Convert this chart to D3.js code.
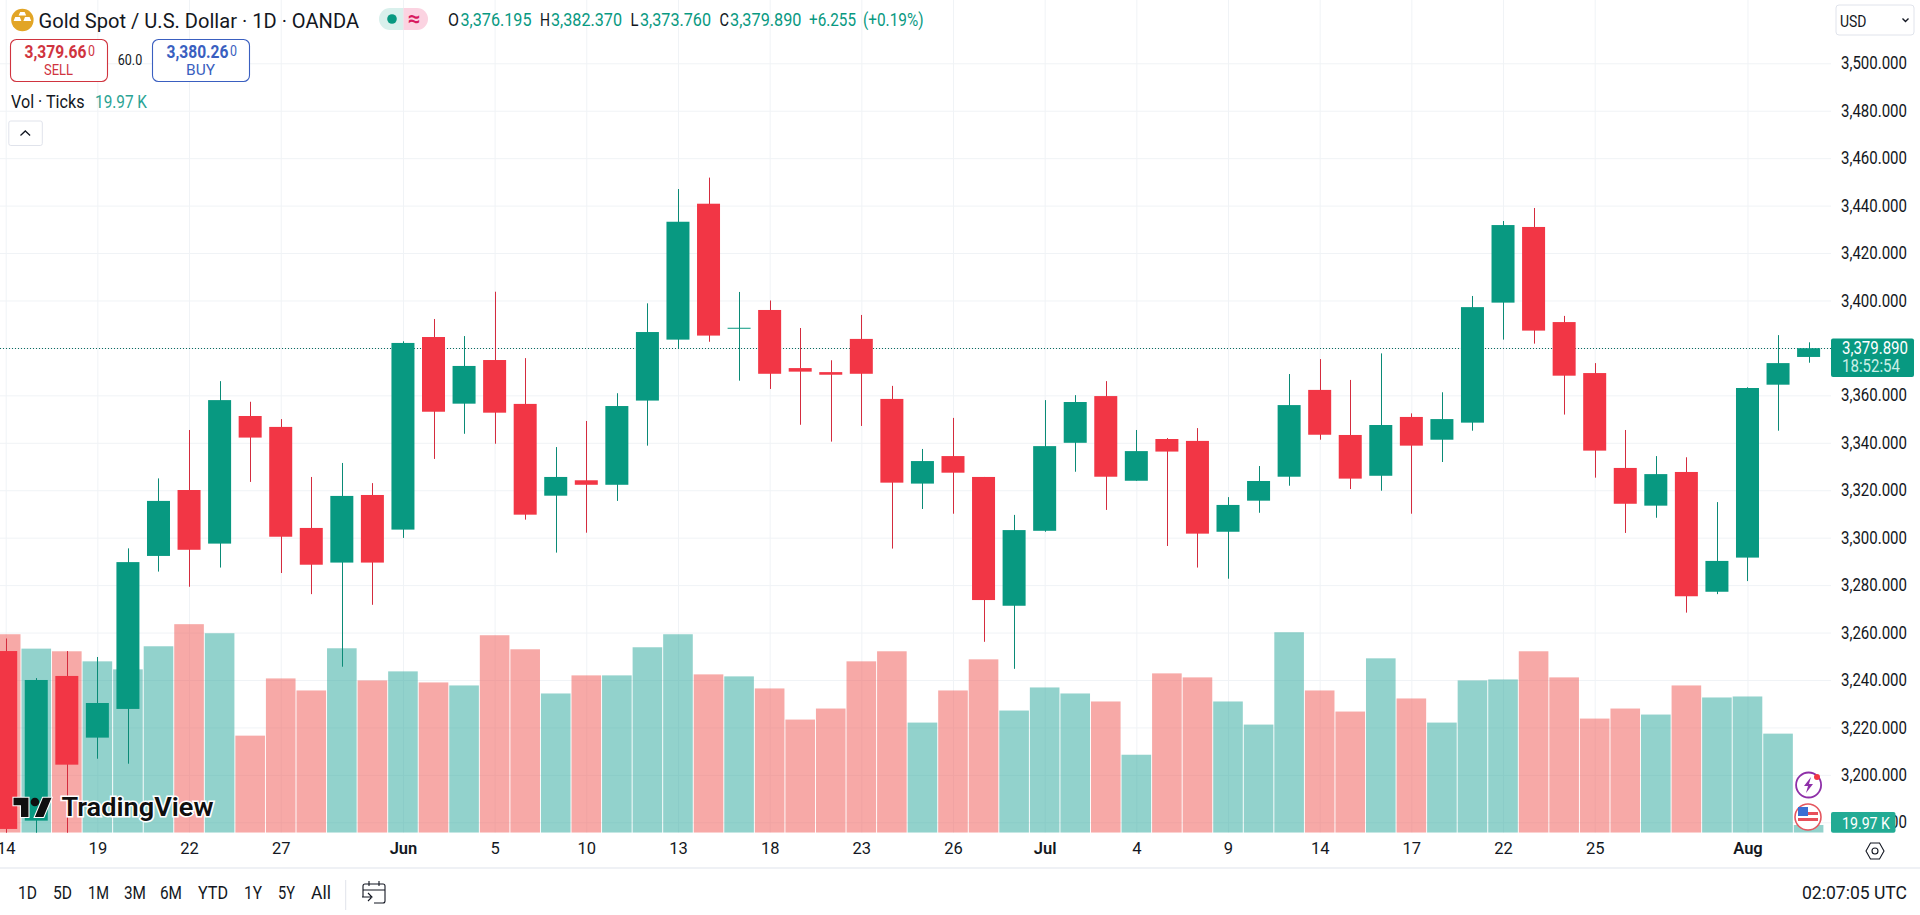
<!DOCTYPE html>
<html>
<head>
<meta charset="utf-8">
<script src="https://cdn.jsdelivr.net/npm/d3@7"></script>
<style>
html, body { margin: 0; padding: 0; background: #fff; overflow: hidden; }
svg { display: block; }
text { font-family: Roboto, "Noto Sans", sans-serif; }
.domain { display: none; }
</style>
</head>
<body>
<svg id="chart" width="1920" height="915"></svg>
<script>
var dates = ["May 14","May 15","May 16","May 19","May 20","May 21","May 22","May 23","May 26","May 27","May 28","May 29","May 30",
    "Jun 2","Jun 3","Jun 4","Jun 5","Jun 6","Jun 9","Jun 10","Jun 11","Jun 12","Jun 13","Jun 16","Jun 17","Jun 18","Jun 19","Jun 20",
    "Jun 23","Jun 24","Jun 25","Jun 26","Jun 27","Jun 30","Jul 1","Jul 2","Jul 3","Jul 4","Jul 7","Jul 8","Jul 9","Jul 10","Jul 11",
    "Jul 14","Jul 15","Jul 16","Jul 17","Jul 18","Jul 21","Jul 22","Jul 23","Jul 24","Jul 25","Jul 28","Jul 29","Jul 30","Jul 31",
    "Aug 1","Aug 4","Aug 5"];

var opens = [3252.2,3180.7,3241.7,3215.7,3227.8,3292.3,3320.1,3297.5,3351.3,3346.7,3304.1,3289.5,3318,
    3303.4,3384.6,3356.5,3374.9,3356.4,3317.7,3324.2,3322.3,3357.8,3383.5,3440.8,3388.1,3396,3371.5,3369.8,
    3383.8,3358.5,3322.8,3334.4,3325.6,3271.3,3302.9,3340,3359.7,3324,3341.6,3340.8,3302.5,3315.6,3325.7,
    3362.3,3343.3,3326.1,3350.9,3341.3,3348.5,3399.1,3431,3390.9,3369.4,3329.4,3313.5,3327.7,3277.2,
    3291.6,3364.5,3376.195];
var highs = [3257.5,3240.8,3252.2,3249.7,3295.5,3325,3345.4,3366,3357.3,3350,3325.6,3331.5,3323,
    3382.8,3392.2,3385,3403.7,3375.7,3338.2,3349.2,3360.9,3398.8,3447,3451.8,3403.6,3400,3388.4,3374.8,
    3393.9,3364,3337.4,3350.5,3325.6,3309.6,3358,3360.1,3366,3345.4,3342,3346.2,3317.1,3330.2,3369,
    3375.3,3366.5,3377.7,3352.4,3361.3,3401.9,3433.5,3439,3393.5,3373.6,3345.4,3334.4,3333.9,3315,
    3363.4,3385.4,3382.37];
var lows = [3170,3170,3170,3206.8,3204.7,3285.7,3279.3,3287.4,3323.5,3285.1,3276.2,3245.6,3271.7,
    3299.9,3333.2,3343.8,3339.6,3307.6,3293.7,3302.1,3315.5,3338.8,3379.8,3382.6,3366.2,3362.7,3347.6,3340.5,
    3347.1,3295.4,3312.1,3310.1,3256.1,3244.7,3302.5,3327.8,3311.7,3324,3296.5,3287.4,3282.7,3310.5,3321.9,
    3341.3,3320.5,3319.8,3310.1,3331.9,3345.1,3383.5,3381.8,3351.9,3325.3,3302,3308.4,3268.4,3276.2,
    3281.7,3345.1,3373.76];
var closes = [3177.2,3240,3204.3,3230.3,3289.7,3315.5,3294.9,3358,3342.2,3300.4,3288.6,3317.6,3289.5,
    3382.1,3353.1,3372.4,3352.7,3309.7,3325.6,3322.3,3355.5,3386.7,3433.2,3385.2,3388.5,3369.1,3370,3368.7,
    3369.1,3323.2,3332.3,3327.4,3273.7,3303.2,3338.6,3357.2,3325.7,3336.5,3336.3,3301.7,3313.8,3323.9,3355.9,
    3343.4,3324.9,3347.5,3338.8,3350,3397.2,3431.8,3387.3,3368.3,3336.7,3314.3,3326.8,3275.3,3290.2,
    3363.1,3373.6,3379.89];
var volumes = [514.7,477.4,470.5,444.4,423.6,483.5,540.8,517.3,251.7,400.1,368.9,478.3,394.9,
    418.4,389.7,381.9,512.1,475.7,361.1,408,408,480.9,514.7,410.6,405.4,374.1,293.4,322,
    444.4,470.5,285.6,368.9,449.6,316.8,376.7,361.1,340.3,202.2,413.2,402.8,340.3,280.4,519.9,
    368.9,314.2,452.2,348.1,285.6,394.9,397.5,470.5,402.8,296,322,306.4,381.9,350.7,
    353.3,256.9,19.97];

var priceTicks = [3500,3480,3460,3440,3420,3400,3380,3360,3340,3320,3300,3280,3260,3240,3220,3200,3180];
var timeTicks = ["May 14","May 19","May 22","May 27","Jun 2","Jun 5","Jun 10","Jun 13","Jun 18","Jun 23","Jun 26","Jul 1","Jul 4","Jul 9","Jul 14","Jul 17","Jul 22","Jul 25","Aug 1"];
var monthStarts = { "Jun 2": "Jun", "Jul 1": "Jul", "Aug 1": "Aug" };
var rangeButtons = ["1D","5D","1M","3M","6M","YTD","1Y","5Y","All"];
var rangeButtonX = [18,53,88,124,160,198,244,278,311];
var rangeButtonW = [19,19,21,22,22,30,18,17,20];

var lastPrice = 3379.89;

var GREEN = "#089981", RED = "#f23645", GRID = "#f0f3f6", TEXT = "#131722", BORDER = "#e0e3eb";
var plotRight = 1831, plotBottom = 832.7;

var svg = d3.select("#chart");

var x = d3.scalePoint().domain(dates).range([5.7, 1808.6]);
var y = d3.scaleLinear().domain([3500, 3180]).range([63.3, 822.3]);
// 19.97K is about 7.7px tall in the picture
var yVol = d3.scaleLinear().domain([0, 19.97]).range([plotBottom, plotBottom - 7.7]);

svg.append("clipPath").attr("id", "plot")
    .append("rect").attr("width", plotRight).attr("height", plotBottom);

// helper for all the loose labels, w squeezes text to the measured width
function label(parent, str, px, py, size, fill, w, anchor, weight) {
    var t = parent.append("text").text(str)
        .attr("x", px).attr("y", py)
        .attr("dy", "0.36em")
        .attr("font-size", size)
        .attr("fill", fill)
        .attr("text-anchor", anchor || "start");
    if (w) t.attr("textLength", w).attr("lengthAdjust", "spacingAndGlyphs");
    if (weight) t.attr("font-weight", weight);
    return t;
}

// grid
svg.append("g").attr("class", "grid-x")
    .attr("transform", "translate(0," + plotBottom + ")")
    .call(d3.axisBottom(x).tickValues(timeTicks).tickSize(-plotBottom).tickFormat(""))
    .selectAll("line").attr("stroke", GRID);
svg.append("g").attr("class", "grid-y")
    .call(d3.axisRight(y).tickValues(priceTicks).tickSize(plotRight).tickFormat(""))
    .selectAll("line").attr("stroke", GRID);

var plot = svg.append("g").attr("clip-path", "url(#plot)");
var idx = d3.range(dates.length);

function candleColor(i) { return closes[i] >= opens[i] ? GREEN : RED; }
function wickColor(i) { return closes[i] >= opens[i] ? "#0a8a76" : "#d42c3e"; }

// volume under the candles
plot.append("g").selectAll("rect").data(idx).enter().append("rect")
    .attr("x", function(i) { return x(dates[i]) - 14.8; })
    .attr("width", 29.6)
    .attr("y", function(i) { return yVol(volumes[i]); })
    .attr("height", function(i) { return plotBottom - yVol(volumes[i]); })
    .attr("fill", function(i) { return closes[i] >= opens[i] ? "#26a69a" : "#ef5350"; })
    .attr("fill-opacity", 0.5);

// last price line
plot.append("line")
    .attr("x1", 0).attr("x2", plotRight)
    .attr("y1", Math.round(y(lastPrice)) + 0.5).attr("y2", Math.round(y(lastPrice)) + 0.5)
    .attr("stroke", "#0b6f60").attr("stroke-width", 1).attr("stroke-dasharray", "1 2");

// candles
plot.append("g").selectAll("line").data(idx).enter().append("line")
    .attr("x1", function(i) { return Math.round(x(dates[i])) + 0.5; })
    .attr("x2", function(i) { return Math.round(x(dates[i])) + 0.5; })
    .attr("y1", function(i) { return y(highs[i]); })
    .attr("y2", function(i) { return y(lows[i]); })
    .attr("stroke", wickColor).attr("stroke-width", 1);
plot.append("g").selectAll("rect").data(idx).enter().append("rect")
    .attr("x", function(i) { return x(dates[i]) - 11.5; })
    .attr("width", 23)
    .attr("y", function(i) { return y(Math.max(opens[i], closes[i])); })
    .attr("height", function(i) { return Math.max(1, Math.abs(y(opens[i]) - y(closes[i]))); })
    .attr("fill", candleColor);

// price axis
var priceAxis = svg.append("g")
    .attr("transform", "translate(1841,0)")
    .call(d3.axisRight(y).tickValues(priceTicks).tickSize(0).tickPadding(0).tickFormat(d3.format(",.3f")));
priceAxis.selectAll("text")
    .attr("font-size", 17.5).attr("fill", TEXT)
    .attr("textLength", 66).attr("lengthAdjust", "spacingAndGlyphs");

// time axis
var timeAxis = svg.append("g")
    .attr("transform", "translate(0," + plotBottom + ")")
    .call(d3.axisBottom(x).tickValues(timeTicks).tickSize(0).tickPadding(10)
        .tickFormat(function(d) { return monthStarts[d] || d.split(" ")[1]; }));
timeAxis.selectAll("text")
    .attr("font-size", 16.5).attr("fill", TEXT)
    .attr("font-weight", function(d) { return monthStarts[d] ? 600 : 400; });

svg.append("line").attr("x1", 0).attr("x2", 1920).attr("y1", 868).attr("y2", 868)
    .attr("stroke", BORDER).attr("stroke-width", 1.2);

// header
var head = svg.append("g");
head.append("circle").attr("cx", 22.4).attr("cy", 20).attr("r", 11.2).attr("fill", "#e2a526");
head.append("path").attr("d", "M20.2 12h4.4l1.6 3.6h-7.6zM15.2 17h4.6l1.6 4h-7.8zM25 17h4.6l1.6 4h-7.8z").attr("fill", "#fff");
label(head, "Gold Spot / U.S. Dollar · 1D · OANDA", 38.5, 20.5, 20, TEXT, 320.5);

head.append("path").attr("d", "M403.5 8h-13.5a11 11 0 0 0 0 22h13.5z").attr("fill", "#d9f0ec");
head.append("path").attr("d", "M403.5 8h13.5a11 11 0 0 1 0 22h-13.5z").attr("fill", "#fbd3e1");
head.append("circle").attr("cx", 392).attr("cy", 19).attr("r", 4.8).attr("fill", GREEN);
label(head, "≈", 414, 18.5, 22, "#d81b60", null, "middle", 700);

var ohlc = [
    ["O", 448, 11, TEXT], ["3,376.195", 460.5, 71, GREEN],
    ["H", 540, 10, TEXT], ["3,382.370", 551, 71, GREEN],
    ["L", 630.5, 8, TEXT], ["3,373.760", 640, 71, GREEN],
    ["C", 719.5, 9.5, TEXT], ["3,379.890", 730, 71.5, GREEN],
    ["+6.255", 809, 47, GREEN], ["(+0.19%)", 863, 60.5, GREEN]
];
ohlc.forEach(function(d) { label(head, d[0], d[1], 20, 17.5, d[3], d[2]); });

// trade buttons
function tradeBox(bx, bw, color, price, small, caption) {
    head.append("rect").attr("x", bx).attr("y", 39.5).attr("width", bw).attr("height", 42)
        .attr("rx", 6).attr("fill", "#fff").attr("stroke", color).attr("stroke-width", 1.1);
    label(head, price, bx + 14, 52, 17.5, color, 62, "start", 700);
    label(head, small, bx + 77.5, 51, 14, color, 7);
    label(head, caption, bx + bw / 2 - 0.5, 69.5, 15.5, color, 29, "middle");
}
tradeBox(10.5, 97, "#d0343f", "3,379.66", "0", "SELL");
tradeBox(152.5, 97, "#3a5fc0", "3,380.26", "0", "BUY");
label(head, "60.0", 130, 60, 14.5, TEXT, 24.5, "middle");

label(head, "Vol · Ticks", 11, 101.5, 17.5, TEXT, 73.5);
label(head, "19.97 K", 95, 102, 17.5, "#2aa394", 52);

head.append("rect").attr("x", 8.8).attr("y", 121).attr("width", 33.5).attr("height", 24.5)
    .attr("rx", 2).attr("fill", "#fff").attr("stroke", BORDER);
head.append("path").attr("d", "M20.5 135.5l4.8-4.5 4.8 4.5").attr("fill", "none").attr("stroke", TEXT).attr("stroke-width", 1.3);

// currency picker
head.append("rect").attr("x", 1836).attr("y", 5).attr("width", 78).attr("height", 30)
    .attr("rx", 3).attr("fill", "#fff").attr("stroke", BORDER);
label(head, "USD", 1840, 20.5, 17, TEXT, 26.5);
head.append("path").attr("d", "M1902.5 18.5l3 3 3-3").attr("fill", "none").attr("stroke", TEXT).attr("stroke-width", 1.4);

// last price + countdown
var tag = svg.append("g");
tag.append("rect").attr("x", 1831).attr("y", 338.5).attr("width", 83).attr("height", 38.5).attr("rx", 2).attr("fill", GREEN);
label(tag, d3.format(",.3f")(lastPrice), 1842, y(lastPrice), 17.5, "#fff", 66);
label(tag, "18:52:54", 1842, 366, 17.5, "#c9efe7", 58);

tag.append("rect").attr("x", 1831).attr("y", 812).attr("width", 64.5).attr("height", 20.7).attr("rx", 2).attr("fill", "#22ab94");
label(tag, "19.97 K", 1842, 822.5, 17, "#fff", 48);

// settings hexagon
var hex = svg.append("g").attr("transform", "translate(1875,851)");
hex.append("path").attr("d", "M-9 0L-4.5-8H4.5L9 0L4.5 8H-4.5Z").attr("fill", "none").attr("stroke", TEXT).attr("stroke-width", 1.1);
hex.append("circle").attr("r", 3).attr("fill", "none").attr("stroke", TEXT).attr("stroke-width", 1.1);

// chart badges
var badges = svg.append("g");
badges.append("circle").attr("cx", 1808.6).attr("cy", 785).attr("r", 12.5).attr("fill", "#fff").attr("stroke", "#8e2fa8").attr("stroke-width", 1.8);
badges.append("path").attr("d", "M1811 777l-7 9h4l-2 7 7-9h-4z").attr("fill", "#8e2fa8");
badges.append("circle").attr("cx", 1817).attr("cy", 777).attr("r", 3).attr("fill", "#f23645");
badges.append("circle").attr("cx", 1808).attr("cy", 817).attr("r", 13).attr("fill", "#fff").attr("stroke", "#e5575f").attr("stroke-width", 1.6);
badges.append("path").attr("d", "M1798 812h20v3h-20zM1798 818h20v3h-20z").attr("fill", "#e8505b");
badges.append("rect").attr("x", 1798).attr("y", 807).attr("width", 10).attr("height", 9).attr("fill", "#3b6fd4");

// watermark
var mark = svg.append("g").attr("transform", "translate(13.5,793.5) scale(1.07)");
mark.append("path").attr("d", "M14 22H7V11H0V4h14v18zM28 22h-8l7.5-18h8L28 22z").attr("fill", "#0f0f0f").attr("stroke", "#fff").attr("stroke-width", 2).attr("paint-order", "stroke");
mark.append("circle").attr("cx", 20).attr("cy", 8).attr("r", 4).attr("fill", "#0f0f0f");
label(svg, "TradingView", 61.5, 806.5, 25, "#0f0f0f", 152, "start", 600)
    .attr("stroke", "#fff").attr("stroke-width", 3).attr("paint-order", "stroke");

// bottom bar
var bottom = svg.append("g");
rangeButtons.forEach(function(b, i) {
    label(bottom, b, rangeButtonX[i], 893, 17.5, TEXT, rangeButtonW[i]);
});
bottom.append("line").attr("x1", 345.7).attr("x2", 345.7).attr("y1", 880).attr("y2", 910).attr("stroke", BORDER);
bottom.append("path")
    .attr("d", "M363 897v-11a2 2 0 0 1 2-2h18a2 2 0 0 1 2 2v15a2 2 0 0 1-2 2h-9M363 890h22M369 881v5M379 881v5M362 897h9M368 893l4 4-4 4")
    .attr("fill", "none").attr("stroke", TEXT).attr("stroke-width", 1.1);
label(bottom, "02:07:05 UTC", 1907, 893, 18, TEXT, 105, "end");
</script>
</body>
</html>
